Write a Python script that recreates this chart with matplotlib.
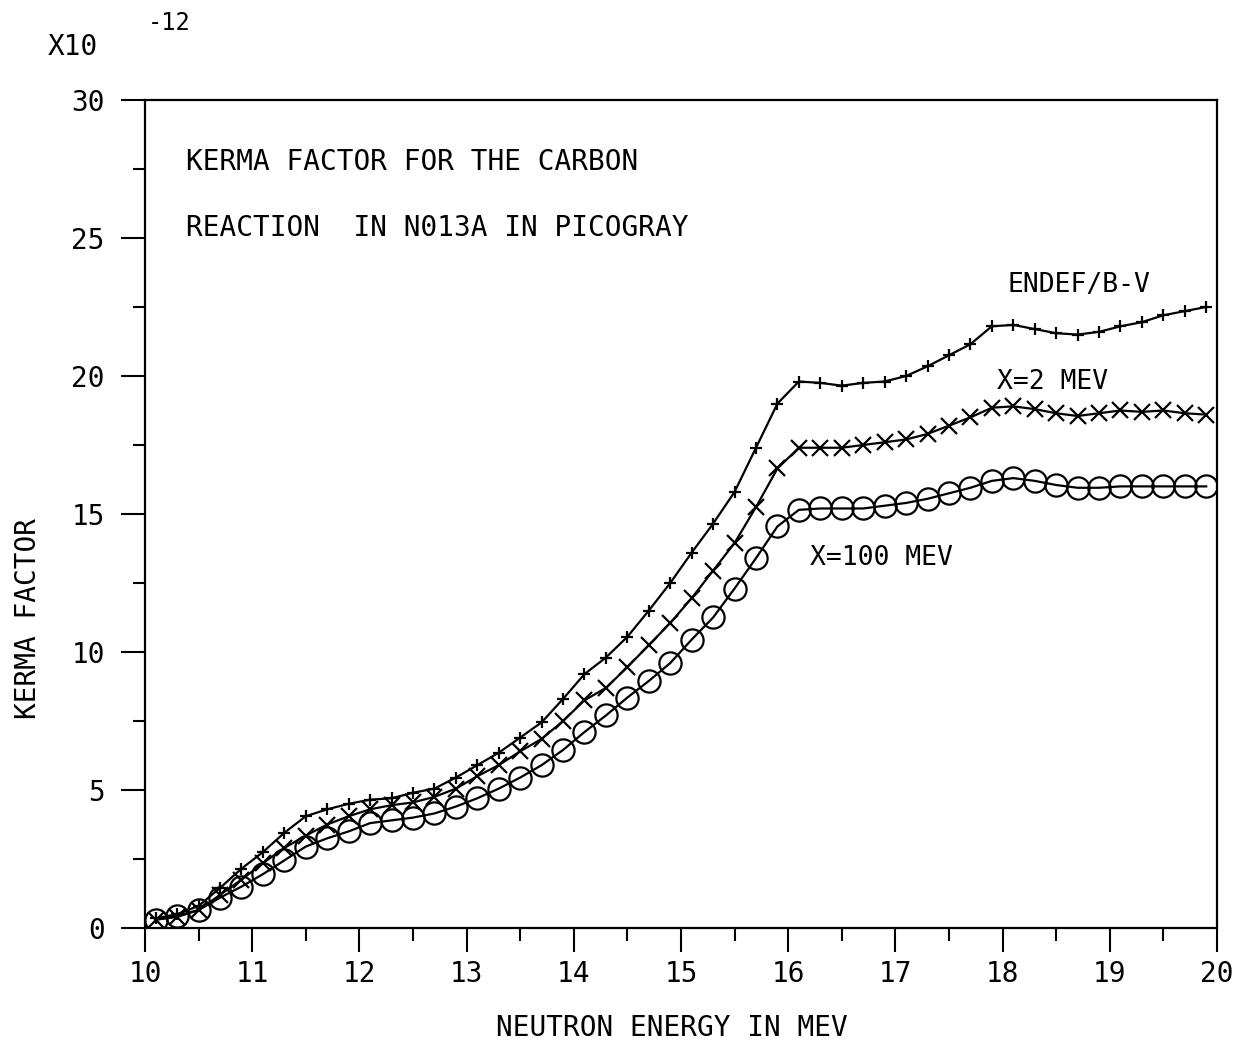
import matplotlib
matplotlib.use("Agg")
import matplotlib.pyplot as plt
from matplotlib.ticker import MultipleLocator

plt.rcParams['font.family'] = ['DejaVu Sans Mono']

# neutron energy grid (MeV)
energy = [10.1, 10.3, 10.5, 10.7, 10.9, 11.1, 11.3, 11.5, 11.7, 11.9,
          12.1, 12.3, 12.5, 12.7, 12.9, 13.1, 13.3, 13.5, 13.7, 13.9,
          14.1, 14.3, 14.5, 14.7, 14.9, 15.1, 15.3, 15.5, 15.7, 15.9,
          16.1, 16.3, 16.5, 16.7, 16.9, 17.1, 17.3, 17.5, 17.7, 17.9,
          18.1, 18.3, 18.5, 18.7, 18.9, 19.1, 19.3, 19.5, 19.7, 19.9]

# kerma factor, units of 1e-12
kerma_endf = [0.35, 0.5, 0.8, 1.45, 2.15, 2.75, 3.45, 4.05, 4.3, 4.5,
              4.65, 4.7, 4.9, 5.05, 5.45, 5.9, 6.35, 6.9, 7.45, 8.3,
              9.2, 9.8, 10.55, 11.5, 12.5, 13.6, 14.65, 15.8, 17.4, 19.0,
              19.8, 19.75, 19.65, 19.75, 19.8, 20.0, 20.35, 20.75, 21.15, 21.8,
              21.85, 21.7, 21.55, 21.5, 21.6, 21.8, 21.95, 22.2, 22.35, 22.5]

kerma_x2 = [0.3, 0.4, 0.65, 1.2, 1.75, 2.35, 2.9, 3.35, 3.75, 4.05,
            4.3, 4.45, 4.55, 4.75, 5.05, 5.5, 5.9, 6.4, 6.85, 7.5,
            8.25, 8.7, 9.45, 10.25, 11.05, 11.95, 12.95, 13.95, 15.25, 16.65,
            17.4, 17.4, 17.4, 17.5, 17.6, 17.7, 17.9, 18.2, 18.5, 18.85,
            18.9, 18.8, 18.65, 18.55, 18.65, 18.75, 18.7, 18.75, 18.65, 18.6]

kerma_x100 = [0.3, 0.45, 0.65, 1.1, 1.5, 1.95, 2.45, 2.95, 3.25, 3.5,
              3.8, 3.9, 4.0, 4.15, 4.4, 4.7, 5.05, 5.45, 5.9, 6.45,
              7.1, 7.7, 8.35, 8.95, 9.6, 10.45, 11.25, 12.3, 13.4, 14.55,
              15.15, 15.2, 15.2, 15.2, 15.3, 15.4, 15.55, 15.75, 15.95, 16.2,
              16.3, 16.2, 16.05, 15.95, 15.95, 16.0, 16.0, 16.0, 16.0, 16.0]

fig = plt.figure(figsize=(12.52, 10.48), dpi=100)
ax = fig.add_axes([0.1158, 0.1145, 0.8562, 0.7901])

ax.plot(energy, kerma_endf, color='black', lw=1.6, marker='+', ms=9, mew=1.6)
ax.plot(energy, kerma_x2, color='black', lw=1.6, marker='x', ms=11, mew=1.6)
ax.plot(energy, kerma_x100, color='black', lw=1.6, marker='o', ms=16,
        mfc='none', mew=1.6)

ax.set_xlim(10, 20)
ax.set_ylim(0, 30)
ax.xaxis.set_major_locator(MultipleLocator(1))
ax.xaxis.set_minor_locator(MultipleLocator(0.5))
ax.yaxis.set_major_locator(MultipleLocator(5))
ax.yaxis.set_minor_locator(MultipleLocator(2.5))
ax.tick_params(which='major', direction='out', length=17, width=1.5,
               labelsize=20, pad=6)
ax.tick_params(which='minor', direction='out', length=9, width=1.5)
ax.tick_params(axis='y', which='major', pad=12)
for s in ax.spines.values():
    s.set_linewidth(1.6)

fig.text(0.537, 0.019, 'NEUTRON ENERGY IN MEV', ha='center', va='center',
         fontsize=20)
fig.text(0.022, 0.41, 'KERMA FACTOR', rotation=90, ha='center', va='center',
         fontsize=20)
fig.text(0.038, 0.955, 'X10', fontsize=20, va='center')
fig.text(0.118, 0.978, '-12', fontsize=17, va='center')

ax.text(10.38, 27.75, 'KERMA FACTOR FOR THE CARBON', fontsize=20, va='center')
ax.text(10.38, 25.35, 'REACTION  IN N013A IN PICOGRAY', fontsize=20,
        va='center')
ax.text(18.05, 23.3, 'ENDEF/B-V', fontsize=19, va='center')
ax.text(17.95, 19.8, 'X=2 MEV', fontsize=19, va='center')
ax.text(16.2, 13.4, 'X=100 MEV', fontsize=19, va='center')

fig.savefig('out.png', dpi=100)
